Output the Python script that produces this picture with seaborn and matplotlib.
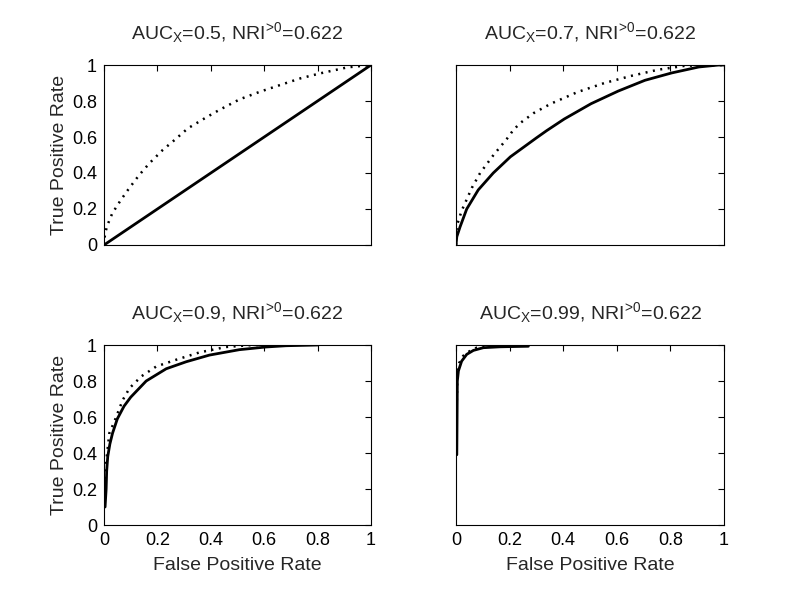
import matplotlib
matplotlib.use("Agg")
import matplotlib.pyplot as plt
import seaborn as sns
import pandas as pd

sns.set_theme(style="white")
plt.rcParams['font.family'] = ['Liberation Sans', 'DejaVu Sans']
plt.rcParams['mathtext.fontset'] = 'custom'
plt.rcParams['mathtext.rm'] = 'Liberation Sans'
plt.rcParams['mathtext.it'] = 'Liberation Sans'
plt.rcParams['mathtext.default'] = 'regular'

titles = [r'AUC$_X$=0.5, $NRI^{\!>\!0}$=0.622',
          r'AUC$_X$=0.7, $NRI^{\!>\!0}$=0.622',
          r'AUC$_X$=0.9, $NRI^{\!>\!0}$=0.622',
          r'AUC$_X$=0.99, $NRI^{\!>\!0}$=0.622']

# Panel 1 (AUC 0.5)
p1_solid_fpr = [0.0, 1.0]
p1_solid_tpr = [0.0, 1.0]
p1_dot_fpr = [0.0, 0.004, 0.013, 0.031, 0.063, 0.094, 0.132, 0.17, 0.22, 0.264, 0.314,
              0.384, 0.434, 0.509, 0.585, 0.66, 0.736, 0.811, 0.912, 1.0]
p1_dot_tpr = [0.0, 0.065, 0.111, 0.176, 0.25, 0.315, 0.389, 0.454, 0.528, 0.583, 0.648,
              0.71, 0.752, 0.81, 0.852, 0.889, 0.926, 0.954, 0.987, 1.0]

# Panel 2 (AUC 0.7)
p2_solid_fpr = [0.0, 0.003, 0.015, 0.04, 0.083, 0.139, 0.203, 0.30, 0.338, 0.404, 0.504,
                0.605, 0.705, 0.805, 0.906, 0.98, 1.0]
p2_solid_tpr = [0.0, 0.046, 0.10, 0.20, 0.306, 0.40, 0.49, 0.595, 0.635, 0.70, 0.785,
                0.855, 0.915, 0.956, 0.989, 1.0, 1.0]
p2_dot_fpr = [0.0, 0.0025, 0.021, 0.059, 0.09, 0.14, 0.19, 0.214, 0.24, 0.29, 0.354, 0.454,
              0.554, 0.655, 0.755, 0.856, 1.0]
p2_dot_tpr = [0.0, 0.104, 0.19, 0.317, 0.40, 0.50, 0.59, 0.639, 0.678, 0.733, 0.785, 0.85,
              0.90, 0.94, 0.974, 0.996, 1.0]

# Panel 3 (AUC 0.9)
p3_solid_fpr = [0.004, 0.008, 0.01, 0.014, 0.022, 0.032, 0.05, 0.075, 0.1, 0.158, 0.233,
                0.308, 0.395, 0.507, 0.607, 0.682, 0.8]
p3_solid_tpr = [0.10, 0.20, 0.30, 0.38, 0.45, 0.51, 0.59, 0.66, 0.71, 0.80, 0.868,
                0.907, 0.944, 0.974, 0.989, 0.996, 1.0]
p3_dot_fpr = [0.0025, 0.009, 0.02, 0.041, 0.07, 0.096, 0.14, 0.196, 0.27, 0.358,
              0.457, 0.557, 0.62]
p3_dot_tpr = [0.215, 0.36, 0.51, 0.583, 0.694, 0.761, 0.826, 0.881, 0.918, 0.959,
              0.989, 1.0, 1.0]

# Panel 4 (AUC 0.99)
p4_solid_fpr = [0.003, 0.005, 0.009, 0.021, 0.04, 0.065, 0.102, 0.164, 0.27]
p4_solid_tpr = [0.39, 0.80, 0.856, 0.91, 0.948, 0.97, 0.985, 0.99, 0.993]
p4_dot_fpr = [0.0025, 0.005, 0.012, 0.027, 0.05, 0.077, 0.12, 0.195]
p4_dot_tpr = [0.65, 0.84, 0.9, 0.94, 0.965, 0.985, 0.99, 0.995]

panels = [
    (p1_solid_fpr, p1_solid_tpr, p1_dot_fpr, p1_dot_tpr),
    (p2_solid_fpr, p2_solid_tpr, p2_dot_fpr, p2_dot_tpr),
    (p3_solid_fpr, p3_solid_tpr, p3_dot_fpr, p3_dot_tpr),
    (p4_solid_fpr, p4_solid_tpr, p4_dot_fpr, p4_dot_tpr),
]

ticks = [0, 0.2, 0.4, 0.6, 0.8, 1]
tick_labels = ['0', '0.2', '0.4', '0.6', '0.8', '1']

fig = plt.figure(figsize=(8, 5.91), dpi=100)
W, H = 800, 591
boxes = [(104, 65, 371, 245), (456, 65, 724, 245), (104, 345, 371, 525), (456, 345, 724, 525)]

for i, (box, (sf, st, df, dt)) in enumerate(zip(boxes, panels)):
    x0, y0, x1, y1 = box
    ax = fig.add_axes([x0 / W, 1 - y1 / H, (x1 - x0) / W, (y1 - y0) / H])
    ds = pd.DataFrame({'fpr': df, 'tpr': dt})
    ss = pd.DataFrame({'fpr': sf, 'tpr': st})
    sns.lineplot(data=ds, x='fpr', y='tpr', ax=ax, sort=False, estimator=None,
                 color='black', lw=1.8, linestyle=(0, (0.8, 2.2)))
    sns.lineplot(data=ss, x='fpr', y='tpr', ax=ax, sort=False, estimator=None,
                 color='black', lw=2.0)
    ax.set_xlim(0, 1)
    ax.set_ylim(0, 1)
    ax.set_xticks(ticks)
    ax.set_yticks(ticks)
    ax.tick_params(direction='in', top=True, right=True, length=4, width=0.8,
                   labelsize=13, colors='black', pad=5)
    for sp in ax.spines.values():
        sp.set_color('black')
        sp.set_linewidth(0.8)
    ax.set_title(titles[i], fontsize=14, pad=19)
    if i < 2:
        ax.set_xticklabels([])
        ax.set_xlabel('')
    else:
        ax.set_xticklabels(tick_labels)
        ax.set_xlabel('False Positive Rate', fontsize=14, labelpad=6)
    if i % 2 == 1:
        ax.set_yticklabels([])
        ax.set_ylabel('')
    else:
        ax.set_yticklabels(tick_labels)
        ax.set_ylabel('True Positive Rate', fontsize=14, labelpad=3)

fig.savefig('out.png', dpi=100)
